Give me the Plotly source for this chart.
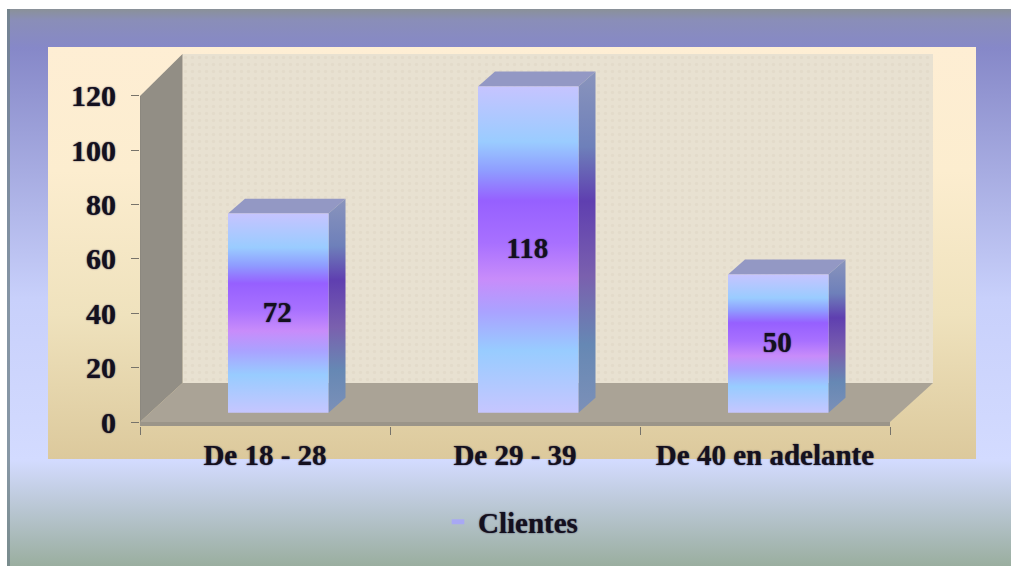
import plotly.graph_objects as go

categories = ["De 18 - 28", "De 29 - 39", "De 40 en adelante"]
clientes = [72, 118, 50]
y_ticks = [0, 20, 40, 60, 80, 100, 120]
series_name = "Clientes"

W, H = 1011, 566
FONT = "Liberation Serif"
INK = "#14101e"
SHADOW = "0px 0px 1.5px #2a2440"

# layout in pixels of the picture
PLOT_L, PLOT_R, PLOT_T, PLOT_B = 140, 933, 54, 426
PX_X = 250.0
PX_Y = 2.717

# 3D cabinet offsets in axis units
WALL_DX, WALL_DY, WALL_TOP = 0.17, 14.4, 135.4
X_MAX = (PLOT_R - PLOT_L) / PX_X
Y_MIN = -(PLOT_B - 422) / PX_Y
Y_MAX = (422 - PLOT_T) / PX_Y
BAR_W, BAR_SHIFT = 0.402, 0.053
BAR_BASE, BAR_SCALE = 3.4, 1.018
SIDE_DX, SIDE_DY = 0.068, 5.5
LABEL_NUDGE = 0.5


def vgrad(stops):
    return dict(type="vertical", colorscale=stops)


fig = go.Figure()

# --- frame and chart-area backgrounds on a full-figure pixel axis
frame_stops = [
    [0.0, "#9aae9f"], [0.19, "#d3dbff"], [0.48, "#c8d0fb"],
    [0.93, "#8688c8"], [0.98, "#8a8eb8"], [1.0, "#8a9198"],
]
fig.add_trace(go.Scatter(
    x=[7, W, W, 7, 7], y=[9, 9, 566, 566, 9], mode="lines", fill="toself",
    line=dict(width=0), fillgradient=vgrad(frame_stops),
    hoverinfo="skip", showlegend=False, xaxis="x", yaxis="y"))
fig.add_trace(go.Scatter(
    x=[7, 10, 10, 7, 7], y=[9, 9, 566, 566, 9], mode="lines", fill="toself",
    line=dict(width=0), fillcolor="rgba(110,128,135,0.75)",
    hoverinfo="skip", showlegend=False, xaxis="x", yaxis="y"))
area_stops = [[0.0, "#dcc99c"], [0.35, "#efe2bd"], [0.7, "#fcedcf"], [1.0, "#feeed4"]]
fig.add_trace(go.Scatter(
    x=[48, 976, 976, 48, 48], y=[47, 47, 459, 459, 47], mode="lines", fill="toself",
    line=dict(width=0), fillgradient=vgrad(area_stops),
    hoverinfo="skip", showlegend=False, xaxis="x", yaxis="y"))

# --- cabinet walls
fig.add_trace(go.Scatter(
    x=[WALL_DX, X_MAX, X_MAX, WALL_DX, WALL_DX],
    y=[WALL_DY, WALL_DY, WALL_TOP, WALL_TOP, WALL_DY],
    mode="lines", fill="toself", line=dict(width=0), fillcolor="#e8e1d1",
    fillpattern=dict(shape=".", size=7, solidity=0.2, fgcolor="#ded6c4", bgcolor="#e8e1d1"),
    hoverinfo="skip", showlegend=False, xaxis="x2", yaxis="y2"))
fig.add_trace(go.Scatter(
    x=[0, WALL_DX, WALL_DX, 0, 0], y=[0, WALL_DY, WALL_TOP, 120, 0],
    mode="lines", fill="toself", line=dict(width=0), fillcolor="#928e85",
    hoverinfo="skip", showlegend=False, xaxis="x2", yaxis="y2"))
fig.add_trace(go.Scatter(
    x=[0, WALL_DX, X_MAX, 3, 0], y=[0, WALL_DY, WALL_DY, 0, 0],
    mode="lines", fill="toself", line=dict(width=0), fillcolor="#aaa396",
    hoverinfo="skip", showlegend=False, xaxis="x2", yaxis="y2"))
fig.add_trace(go.Scatter(
    x=[0, 3, 3, 0, 0], y=[0, 0, Y_MIN, Y_MIN, 0],
    mode="lines", fill="toself", line=dict(width=0), fillcolor="#9b9589",
    hoverinfo="skip", showlegend=False, xaxis="x2", yaxis="y2"))
fig.add_trace(go.Scatter(
    x=[0, 0], y=[0, 120], mode="lines", line=dict(color="#86827a", width=1),
    hoverinfo="skip", showlegend=False, xaxis="x2", yaxis="y2"))

# --- bars
front_stops = [
    [0.0, "#c6c6ff"], [0.19, "#98ccff"], [0.31, "#aaa2ff"], [0.41, "#c88cfa"],
    [0.52, "#a870ff"], [0.65, "#9660ff"], [0.74, "#8f9cff"], [0.83, "#9accff"], [1.0, "#c6c4ff"],
]
side_stops = [
    [0.0, "#7c90b8"], [0.2, "#6688b4"], [0.4, "#7a60ae"], [0.62, "#5f3fb0"],
    [0.78, "#6e80ba"], [1.0, "#8a94bc"],
]
for i, v in enumerate(clientes):
    x0 = i + 0.5 + BAR_SHIFT - BAR_W / 2
    x1 = x0 + BAR_W
    y0 = BAR_BASE
    y1 = BAR_BASE + v * BAR_SCALE
    # top face
    fig.add_trace(go.Scatter(
        x=[x0, x1, x1 + SIDE_DX, x0 + SIDE_DX, x0],
        y=[y1, y1, y1 + SIDE_DY, y1 + SIDE_DY, y1],
        mode="lines", fill="toself", line=dict(width=0), fillcolor="#9398c4",
        hoverinfo="skip", showlegend=False, xaxis="x2", yaxis="y2"))
    # side face
    fig.add_trace(go.Scatter(
        x=[x1, x1 + SIDE_DX, x1 + SIDE_DX, x1, x1],
        y=[y0, y0 + SIDE_DY, y1 + SIDE_DY, y1, y0],
        mode="lines", fill="toself", line=dict(width=0), fillgradient=vgrad(side_stops),
        hoverinfo="skip", showlegend=False, xaxis="x2", yaxis="y2"))
    # front face
    fig.add_trace(go.Scatter(
        x=[x0, x1, x1, x0, x0], y=[y0, y0, y1, y1, y0],
        mode="lines", fill="toself", line=dict(width=0), fillgradient=vgrad(front_stops),
        name=categories[i], hoverinfo="skip", showlegend=False, xaxis="x2", yaxis="y2"))

# --- data labels
fig.add_trace(go.Scatter(
    x=[i + 0.5 + BAR_SHIFT - 0.004 for i in range(len(clientes))],
    y=[BAR_BASE + v * BAR_SCALE / 2 - LABEL_NUDGE for v in clientes],
    mode="text", text=[str(v) for v in clientes], textposition="middle center",
    textfont=dict(family=FONT, size=29, color=INK, weight=700, shadow=SHADOW),
    hoverinfo="skip", showlegend=False, xaxis="x2", yaxis="y2"))

# --- legend entry
fig.add_trace(go.Scatter(
    x=[None], y=[None], mode="markers", name=series_name,
    marker=dict(symbol="line-ew", size=9, color="#a8a8f4",
                line=dict(color="#a8a8f4", width=5)),
    xaxis="x2", yaxis="y2"))

fig.update_layout(
    width=W, height=H, margin=dict(l=0, r=0, t=0, b=0, autoexpand=False),
    paper_bgcolor="white", plot_bgcolor="rgba(0,0,0,0)",
    xaxis=dict(domain=[0, 1], range=[0, W], visible=False, fixedrange=True),
    yaxis=dict(domain=[0, 1], range=[H, 0], visible=False, fixedrange=True),
    xaxis2=dict(
        domain=[PLOT_L / W, PLOT_R / W], range=[0, X_MAX], anchor="y2", showgrid=False,
        zeroline=False, showline=False, tickmode="array",
        tickvals=[i + 0.5 for i in range(len(categories))], ticktext=categories,
        ticks="", ticklabelstandoff=9, tickangle=0,
        tickfont=dict(family=FONT, size=29, color=INK, weight=700, shadow=SHADOW),
        minor=dict(tickmode="array", tickvals=[0, 1, 2, 3], ticks="outside", ticklen=8,
                   tickwidth=1, tickcolor="#77736a", showgrid=False),
    ),
    yaxis2=dict(
        domain=[(H - PLOT_B) / H, (H - PLOT_T) / H], range=[Y_MIN, Y_MAX], anchor="x2",
        showgrid=False, zeroline=False, showline=False, tickmode="array",
        tickvals=y_ticks, ticks="outside", ticklen=8, tickwidth=1, tickcolor="#77736a",
        ticklabelstandoff=9,
        tickfont=dict(family=FONT, size=30, color=INK, weight=700, shadow=SHADOW),
    ),
    showlegend=True,
    legend=dict(
        x=438 / W, y=(H - 522) / H, xanchor="left", yanchor="middle",
        bgcolor="rgba(0,0,0,0)", borderwidth=0,
        font=dict(family=FONT, size=29, color=INK, weight=700, shadow=SHADOW),
    ),
)

fig.write_html("out.html", config=dict(displayModeBar=False),
               post_script="document.body.style.margin='0';document.body.style.overflow='hidden';")
